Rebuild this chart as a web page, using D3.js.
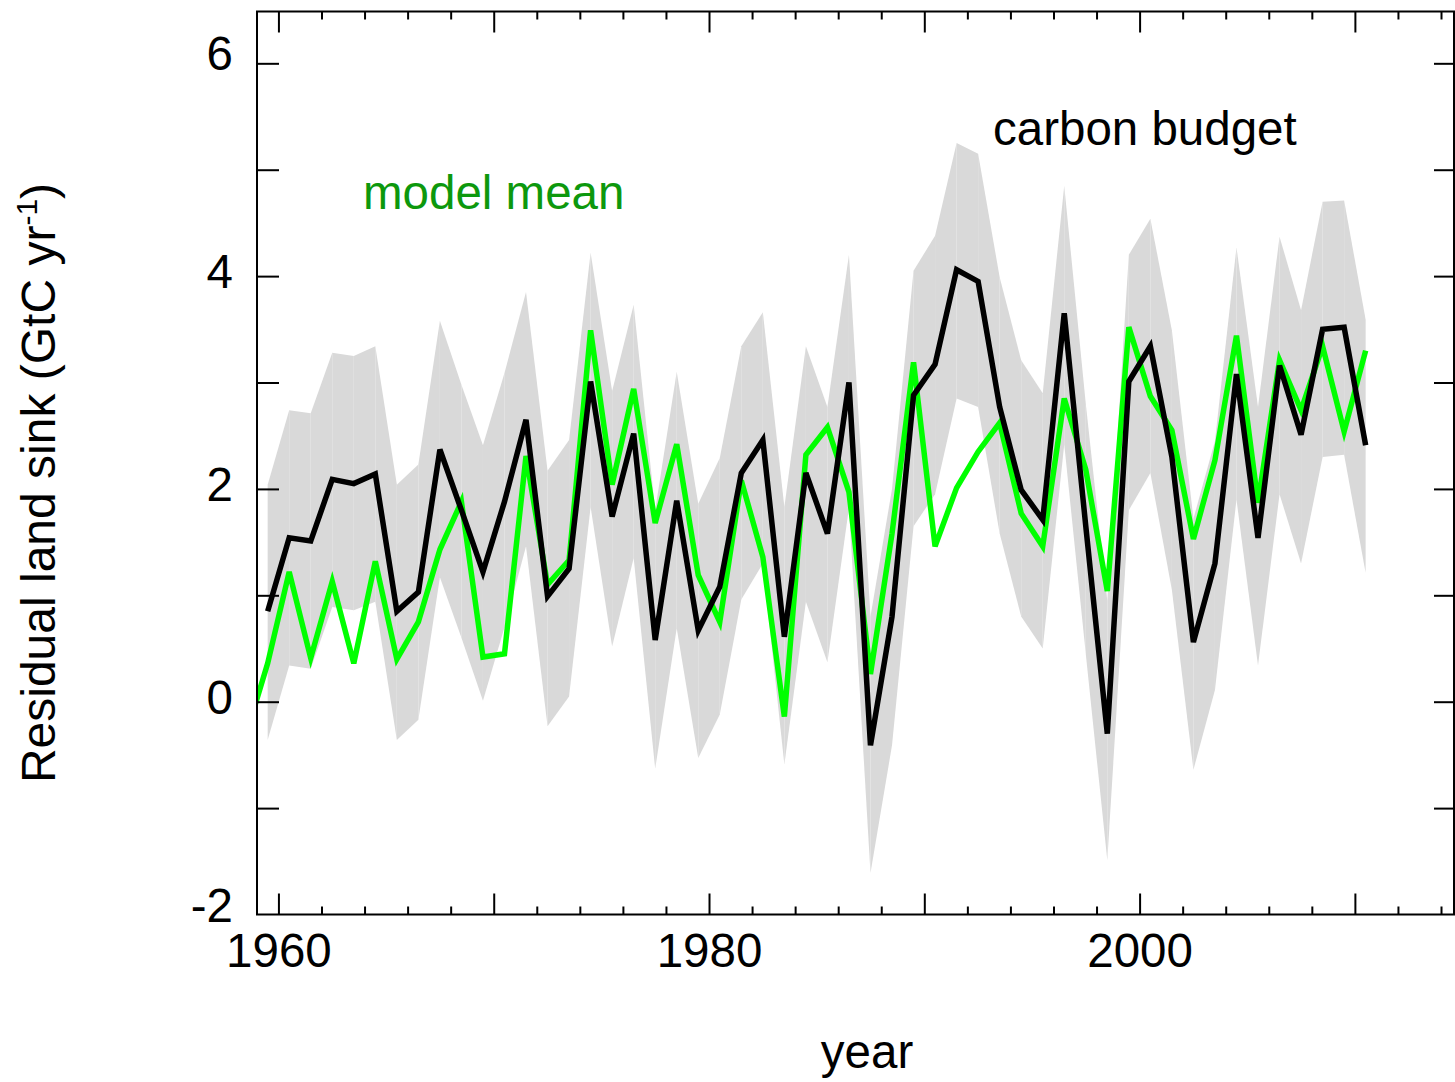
<!DOCTYPE html>
<html>
<head>
<meta charset="utf-8">
<script src="https://cdn.jsdelivr.net/npm/d3@7"></script>
<style>
  html, body { margin: 0; padding: 0; background: #fff; }
  svg { display: block; }
  text { font-family: "Liberation Sans", Arial, Helvetica, sans-serif; }
</style>
</head>
<body>
<svg id="chart" width="1455" height="1082"></svg>
<script>
// Residual land sink, annual values (GtC per year), plotted at mid-year.
const budgetYears = [1959,1960,1961,1962,1963,1964,1965,1966,1967,1968,1969,
  1970,1971,1972,1973,1974,1975,1976,1977,1978,1979,1980,1981,1982,1983,1984,
  1985,1986,1987,1988,1989,1990,1991,1992,1993,1994,1995,1996,1997,1998,1999,
  2000,2001,2002,2003,2004,2005,2006,2007,2008,2009,2010];

// Carbon budget residual
const budget = [0.85,1.54,1.51,2.09,2.05,2.14,0.85,1.03,2.37,1.80,1.22,
  1.88,2.65,0.99,1.25,3.01,1.74,2.52,0.58,1.89,0.67,1.08,2.15,2.46,0.61,2.15,
  1.58,3.00,-0.41,0.80,2.88,3.17,4.06,3.95,2.77,1.99,1.71,3.65,1.65,-0.30,3.01,
  3.34,2.30,0.56,1.30,3.08,1.54,3.16,2.51,3.50,3.52,2.41];

// Uncertainty envelope of the carbon budget residual
const budgetHigh = [2.04,2.74,2.71,3.28,3.25,3.34,2.04,2.23,3.58,2.98,2.41,
  3.09,3.85,2.17,2.46,4.22,2.92,3.73,1.80,3.10,1.86,2.29,3.34,3.66,1.83,3.34,
  2.77,4.20,0.80,2.00,4.05,4.38,5.25,5.15,3.99,3.21,2.90,4.85,2.80,0.95,4.20,
  4.54,3.49,1.72,2.45,4.27,2.77,4.37,3.68,4.70,4.71,3.59];
const budgetLow = [-0.36,0.34,0.31,0.89,0.86,0.94,-0.36,-0.17,1.17,0.60,0.01,
  0.70,1.46,-0.23,0.05,1.83,0.52,1.35,-0.63,0.69,-0.53,-0.12,0.96,1.30,-0.59,0.94,
  0.37,1.82,-1.61,-0.41,1.65,1.95,2.85,2.77,1.58,0.80,0.50,2.42,0.45,-1.49,1.80,
  2.15,1.05,-0.64,0.11,1.90,0.34,1.95,1.30,2.30,2.32,1.21];

// Land model ensemble mean
const modelYears = [1958,1959,1960,1961,1962,1963,1964,1965,1966,1967,1968,1969,
  1970,1971,1972,1973,1974,1975,1976,1977,1978,1979,1980,1981,1982,1983,1984,
  1985,1986,1987,1988,1989,1990,1991,1992,1993,1994,1995,1996,1997,1998,1999,
  2000,2001,2002,2003,2004,2005,2006,2007,2008,2009,2010];
const modelMean = [-0.31,0.36,1.22,0.41,1.13,0.36,1.32,0.40,0.75,1.43,1.88,0.42,
  0.45,2.31,1.10,1.33,3.49,2.04,2.94,1.68,2.42,1.19,0.75,2.08,1.36,-0.14,2.32,
  2.58,1.97,0.26,1.58,3.19,1.46,2.01,2.35,2.62,1.77,1.46,2.85,2.18,1.04,3.52,
  2.87,2.55,1.53,2.27,3.44,1.87,3.21,2.74,3.34,2.54,3.30];

// Axis ticks
const xMajorTicks = [1960, 1970, 1980, 1990, 2000, 2010];
const xMinorTicks = [1962, 1964, 1966, 1968, 1972, 1974, 1976, 1978, 1982, 1984,
  1986, 1988, 1992, 1994, 1996, 1998, 2002, 2004, 2006, 2008, 2012, 2014];
const xTickLabels = [1960, 1980, 2000];
const yTicks = [-1, 0, 1, 2, 3, 4, 5, 6];
const yTickLabels = [-2, 0, 2, 4, 6];

const W = 1455, H = 1082;
const plot = { left: 257, right: 1454, top: 11.5, bottom: 914.5 };
const fontSize = 47.5;

const svg = d3.select("#chart");
svg.append("rect").attr("width", W).attr("height", H).attr("fill", "#fff");

const x = d3.scaleLinear().domain([1959, 2014.65]).range([256.9, 1455]);
const y = d3.scaleLinear().domain([-2, 6.487]).range([plot.bottom, plot.top]);

svg.append("defs").append("clipPath").attr("id", "plotClip")
  .append("rect")
  .attr("x", plot.left).attr("y", plot.top)
  .attr("width", plot.right - plot.left).attr("height", plot.bottom - plot.top);

const budgetRows = budgetYears.map((yr, i) => ({
  year: yr, value: budget[i], high: budgetHigh[i], low: budgetLow[i]
}));
const modelRows = modelYears.map((yr, i) => ({ year: yr, value: modelMean[i] }));

const gData = svg.append("g").attr("clip-path", "url(#plotClip)");

// Uncertainty envelope, one quad per year step
const band = d3.area()
  .x(d => x(d.year + 0.5))
  .y0(d => y(d.low))
  .y1(d => y(d.high));
gData.append("g").selectAll("path")
  .data(d3.pairs(budgetRows))
  .join("path")
  .attr("d", d => band(d))
  .attr("fill", "#d9d9d9")
  .attr("stroke", "none");

const line = d3.line()
  .x(d => x(d.year + 0.5))
  .y(d => y(d.value));

gData.append("path")
  .datum(modelRows)
  .attr("d", line)
  .attr("fill", "none")
  .attr("stroke", "#00ff00")
  .attr("stroke-width", 5.5);

gData.append("path")
  .datum(budgetRows)
  .attr("d", line)
  .attr("fill", "none")
  .attr("stroke", "#000")
  .attr("stroke-width", 5.5);

// Axes
function styleAxis(g) {
  g.select(".domain").remove();
  g.selectAll(".tick line").attr("stroke", "#000").attr("stroke-width", 2);
}

// bottom
svg.append("g")
  .attr("transform", `translate(0,${plot.bottom})`)
  .call(d3.axisBottom(x).tickValues(xMinorTicks).tickSize(-8).tickFormat(""))
  .call(styleAxis);
const gxb = svg.append("g")
  .attr("transform", `translate(0,${plot.bottom})`)
  .call(d3.axisBottom(x).tickValues(xMajorTicks).tickSize(-21)
    .tickFormat(d => xTickLabels.includes(d) ? String(d) : ""))
  .call(styleAxis);
gxb.selectAll(".tick text")
  .attr("y", 967 - plot.bottom).attr("dy", 0)
  .attr("fill", "#000").style("font-size", fontSize + "px")
  .style("font-family", '"Liberation Sans", Arial, sans-serif');

// top
svg.append("g")
  .attr("transform", `translate(0,${plot.top})`)
  .call(d3.axisTop(x).tickValues(xMinorTicks).tickSize(-8).tickFormat(""))
  .call(styleAxis);
svg.append("g")
  .attr("transform", `translate(0,${plot.top})`)
  .call(d3.axisTop(x).tickValues(xMajorTicks).tickSize(-21).tickFormat(""))
  .call(styleAxis);

// left
svg.append("g")
  .attr("transform", `translate(${plot.left},0)`)
  .call(d3.axisLeft(y).tickValues(yTicks).tickSize(-22).tickFormat(""))
  .call(styleAxis);
const yDomain = y.domain();
svg.append("g").selectAll("text")
  .data(yTickLabels)
  .join("text")
  .attr("x", 233)
  .attr("y", d => y(d) + (d === 6 || d === yDomain[0] ? 7 : 12))
  .attr("text-anchor", "end")
  .attr("fill", "#000")
  .style("font-size", fontSize + "px")
  .text(d => String(d));

// right
svg.append("g")
  .attr("transform", `translate(${plot.right},0)`)
  .call(d3.axisRight(y).tickValues(yTicks).tickSize(-20).tickFormat(""))
  .call(styleAxis);

// frame
svg.append("rect")
  .attr("x", plot.left).attr("y", plot.top)
  .attr("width", plot.right - plot.left).attr("height", plot.bottom - plot.top)
  .attr("fill", "none").attr("stroke", "#000").attr("stroke-width", 2);

// axis titles
svg.append("text")
  .attr("x", 867).attr("y", 1068)
  .attr("text-anchor", "middle")
  .style("font-size", fontSize + "px")
  .text("year");

const yTitle = svg.append("text")
  .attr("transform", "translate(55,483) rotate(-90)")
  .attr("text-anchor", "middle")
  .style("font-size", "48px");
yTitle.append("tspan").text("Residual land sink (GtC yr");
yTitle.append("tspan").attr("dy", -18).style("font-size", "30px").text("-1");
yTitle.append("tspan").attr("dy", 18).text(")");

// series labels
svg.append("text")
  .attr("x", 993).attr("y", 145)
  .attr("fill", "#000")
  .style("font-size", fontSize + "px")
  .text("carbon budget");

svg.append("text")
  .attr("x", 363).attr("y", 209)
  .attr("fill", "#0d980d")
  .style("font-size", fontSize + "px")
  .text("model mean");
</script>
</body>
</html>
